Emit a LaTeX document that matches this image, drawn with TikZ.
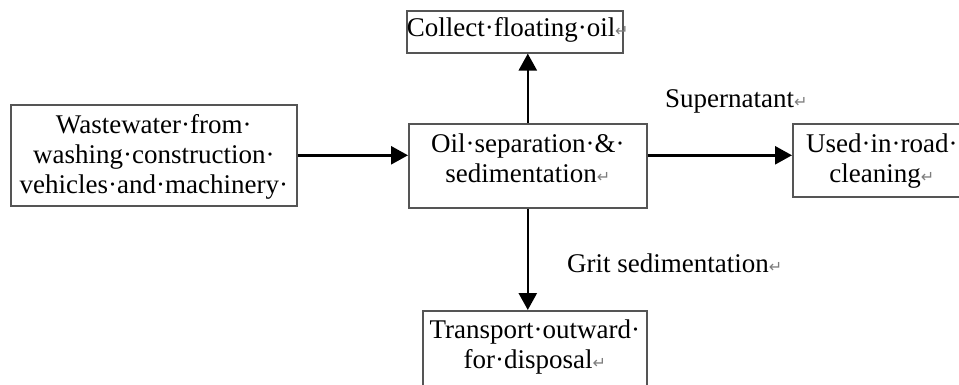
\documentclass[tikz,border=0pt]{standalone}
\usepackage{fontspec}
\setmainfont{Liberation Serif}
\newfontfamily\markfont{DejaVu Sans}
\usetikzlibrary{arrows.meta}
\definecolor{boxgray}{RGB}{85,85,85}
\definecolor{markgray}{RGB}{125,125,125}
\newcommand\retmark{{\markfont\fontsize{16}{16}\selectfont\textcolor{markgray}{↵}}}
\newcommand\boxtext[4][29pt]{\parbox[t][#3][t]{#2}{\centering\rule{0pt}{#1}#4}}

\begin{document}
\begin{tikzpicture}[x=1pt,y=-1pt,
	flowbox/.style={draw=boxgray,line width=1.6pt,inner sep=0pt,anchor=north west,font=\fontsize{27}{30}\selectfont},
	flowarrow/.style={line width=2.6pt,-{Triangle[length=17pt,width=18pt]}},
	flowlabel/.style={inner sep=0pt,anchor=base west,font=\fontsize{27}{30}\selectfont}]
			%%%%% START %%%%%
			
			\useasboundingbox (0,0) rectangle (959,385);
			\clip (0,0) rectangle (959,385);
			
			\node[flowbox] (src) at (10,104) {\boxtext{286pt}{101pt}{Wastewater·from·\\washing·construction·\\vehicles·and·machinery·}};
			\node[flowbox] (oil) at (406,10) {\boxtext[26pt]{216pt}{42pt}{Collect·floating·oil\retmark}};
			\node[flowbox] (sep) at (408,123) {\boxtext{238pt}{84pt}{Oil·separation·\&·\\sedimentation\retmark}};
			\node[flowbox] (road) at (792,123) {\boxtext{178pt}{73pt}{Used·in·road·\\cleaning\retmark}};
			\node[flowbox] (disp) at (422,310) {\boxtext[28pt]{224pt}{90pt}{Transport·outward·\\for·disposal\retmark}};
			
			\node[flowlabel] (super) at (665,108) {Supernatant\retmark};
			\node[flowlabel] (grit) at (567,272) {Grit sedimentation\retmark};
			
			\draw[flowarrow] (src.east) -- (src.east -| sep.west);
			\draw[flowarrow] (sep.east |- src.east) -- (road.west |- src.east);
			\draw[flowarrow] (sep.north) -- (sep.north |- oil.south);
			\draw[flowarrow] (sep.south) -- (sep.south |- disp.north);
			
			%%%%% END %%%%%
\end{tikzpicture}
\end{document}
